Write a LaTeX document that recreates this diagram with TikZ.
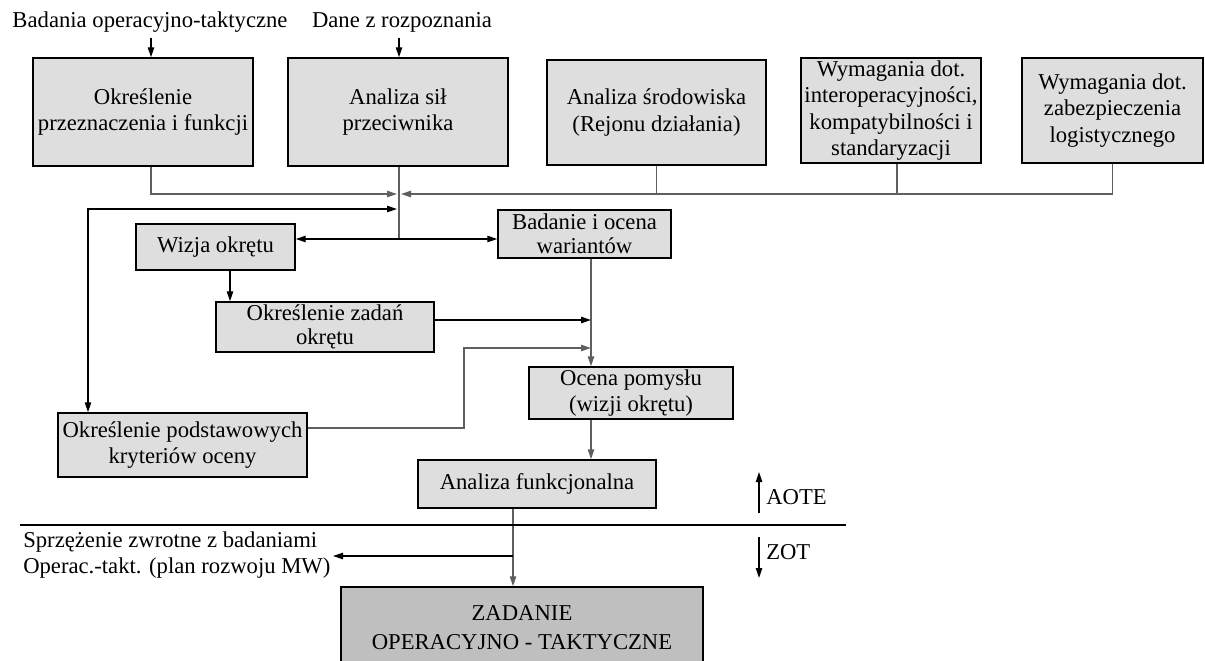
\documentclass[tikz,border=0pt]{standalone}
\usepackage{fontspec}
\setmainfont{Liberation Serif}
\usetikzlibrary{arrows.meta}
\definecolor{boxfill}{RGB}{222,222,222}
\definecolor{mainfill}{RGB}{191,191,191}
\definecolor{linkgray}{RGB}{95,95,95}
\tikzset{
  txt/.style={font=\fontsize{17}{19.9}\selectfont},
  stage/.style 2 args={draw=black, fill=boxfill, line width=1.1pt, align=center,
    inner sep=0pt, txt, minimum width=#1*0.75pt, minimum height=#2*0.75pt},
  link/.style={line width=0.8pt, draw=black},
  glink/.style={line width=0.8pt, draw=linkgray},
  tip/.style={-{Triangle[length=7.5pt,width=4.8pt]}},
  tips/.style={{Triangle[length=7.5pt,width=4.8pt]}-{Triangle[length=7.5pt,width=4.8pt]}},
}
\begin{document}
\begin{tikzpicture}[x=0.75pt,y=-0.75pt]
\useasboundingbox (0,0) rectangle (1205,660);

% inputs
\node[txt, anchor=base] (src1) at (150,28) {Badania operacyjno-taktyczne};
\node[txt, anchor=base] (src2) at (402,28) {Dane z rozpoznania};

% top row
\node[stage={220}{108}] (b1) at (143,112) {Określenie\\przeznaczenia i funkcji};
\node[stage={220}{108}] (b2) at (398,112) {Analiza sił\\przeciwnika};
\node[stage={219}{105}] (b3) at (656.5,112.5) {Analiza środowiska\\(Rejonu działania)};
\node[stage={180}{105}] (b4) at (891,110.5) {Wymagania dot.\\interoperacyjności,\\kompatybilności i\\standaryzacji};
\node[stage={181}{105}] (b5) at (1112.5,110.5) {Wymagania dot.\\zabezpieczenia\\logistycznego};

% middle
\node[stage={159}{46}] (wizja) at (215.5,247) {Wizja okrętu};
\node[stage={173}{48}] (badanie) at (584.5,234) {Badanie i ocena\\[-2pt]wariantów};
\node[stage={218}{50}] (zadan) at (325,327) {Określenie zadań\\[-2pt]okrętu};
\node[stage={249}{64}] (podst) at (182.5,445) {Określenie podstawowych\\kryteriów oceny};
\node[stage={204}{52}] (ocena) at (631,393) {Ocena pomysłu\\(wizji okrętu)};
\node[stage={238}{48}] (analiza) at (537,484) {Analiza funkcjonalna};
\node[stage={362}{82}, fill=mainfill] (zadanie) at (522,628) {ZADANIE\\[2pt]OPERACYJNO - TAKTYCZNE};

% side labels
\node[txt, anchor=west, align=left, inner sep=0pt] (fb) at (23,555)
  {Sprzężenie zwrotne z badaniami\\Operac.-takt. (plan rozwoju MW)};
\node[txt, anchor=west, inner sep=0pt] (aote) at (766,497) {AOTE};
\node[txt, anchor=west, inner sep=0pt] (zot) at (766,552) {ZOT};

% helper coordinates
\coordinate (x1) at (151,0);
\coordinate (x4) at (897,0);
\coordinate (hub) at (399,194);
\coordinate (hubL) at (397,194);
\coordinate (hubR) at (401,194);
\coordinate (hub2) at (399,239);
\coordinate (fbk) at (88,209);
\coordinate (xw) at (230,0);
\coordinate (xv) at (591,0);
\coordinate (yz) at (0,320);
\coordinate (yk) at (0,428);
\coordinate (bend) at (464,348);
\coordinate (xa) at (513,0);
\coordinate (yf) at (0,556);
\coordinate (fbtip) at (333,556);
\coordinate (s1) at (20,525);
\coordinate (s2) at (846,525);
\coordinate (up1) at (759,513);
\coordinate (up2) at (759,472);
\coordinate (dn1) at (759,537);
\coordinate (dn2) at (759,578);

% input arrows
\draw[link,tip] (src1.south -| x1) -- (b1.north -| x1);
\draw[link,tip] (src2.south -| hub) -- (b2.north -| hub);

% collecting bus
\draw[glink,tip] (b1.south -| x1) |- (hubL);
\draw[glink,tip] (b5.south) |- (hubR);
\draw[glink] (b4.south -| x4) -- (x4 |- hub);
\draw[glink] (b3.south) -- (b3.south |- hub);
\draw[glink] (b2.south -| hub) -- (hub2);
\draw[link,tips] (wizja.east |- hub2) -- (badanie.west |- hub2);
\draw[link,tips] (hubL |- fbk) -- (fbk) -- (fbk |- podst.north);

% flow to the functional analysis
\draw[link,tip] (wizja.south -| xw) -- (zadan.north -| xw);
\draw[glink,tip] (badanie.south -| xv) -- (ocena.north -| xv);
\draw[link,tip] (zadan.east |- yz) -- (xv |- yz);
\draw[glink,tip] (podst.east |- yk) -| (bend) -- (xv |- bend);
\draw[glink,tip] (ocena.south -| xv) -- (analiza.north -| xv);
\draw[glink,tip] (analiza.south -| xa) -- (zadanie.north -| xa);
\draw[link,tip] (xa |- yf) -- (fbtip);

% boundary between the stages
\draw[line width=1.2pt] (s1) -- (s2);
\draw[link,tip] (up1) -- (up2);
\draw[link,tip] (dn1) -- (dn2);
\end{tikzpicture}
\end{document}
